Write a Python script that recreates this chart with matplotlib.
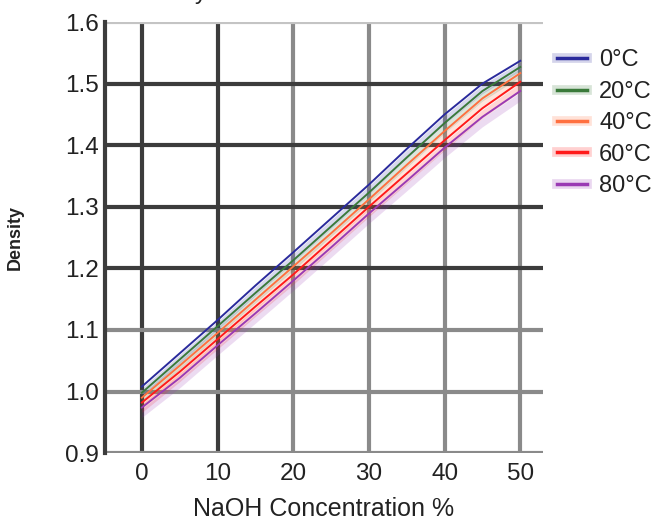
import numpy as np
import matplotlib.pyplot as plt
from matplotlib.lines import Line2D

conc = [0, 5, 10, 15, 20, 25, 30, 35, 40, 45, 50]
labels = ['0°C', '20°C', '40°C', '60°C', '80°C']
d0 = [1.008, 1.062, 1.116, 1.172, 1.226, 1.281, 1.336, 1.394, 1.450, 1.500, 1.537]
d20 = [0.998, 1.052, 1.106, 1.160, 1.213, 1.268, 1.323, 1.380, 1.436, 1.488, 1.527]
d40 = [0.990, 1.042, 1.095, 1.149, 1.203, 1.257, 1.312, 1.368, 1.423, 1.476, 1.517]
d60 = [0.982, 1.032, 1.085, 1.138, 1.190, 1.245, 1.300, 1.354, 1.408, 1.460, 1.503]
d80 = [0.974, 1.022, 1.075, 1.127, 1.180, 1.234, 1.289, 1.342, 1.396, 1.446, 1.488]
colors = ['#2a2a9c', '#3a7a3a', '#ff7040', '#ff1a1a', '#9a3ab4']

xticks = [0, 10, 20, 30, 40, 50]
yticks = [0.9, 1.0, 1.1, 1.2, 1.3, 1.4, 1.5, 1.6]

plt.rcParams['font.family'] = ['Liberation Sans', 'DejaVu Sans']
txt = '#222222'

fig = plt.figure(figsize=(6.55, 5.25), dpi=100)
ax = fig.add_axes([0.160, 0.137, 0.669, 0.821])

# grid: dark and grey lines as in the original picture
dark = '#3c3c3c'
grey = '#8a8a8a'
for x in xticks:
    ax.axvline(x, color=dark if x < 20 else grey, lw=3, zorder=1)
for y in yticks:
    if y >= 1.6:
        c = '#c4c4c4'
    elif y >= 1.2:
        c = dark
    else:
        c = grey
    ax.axhline(y, color=c, lw=3, zorder=1)

series = [d0, d20, d40, d60, d80]
handles = []
for d, c, lab in zip(series, colors, labels):
    d = np.array(d)
    ax.fill_between(conc, d - 0.016, d - 0.002, color=c, alpha=0.18, lw=0, zorder=2)
    ax.plot(conc, d, color=c, lw=1.4, zorder=3)
    handles.append((Line2D([], [], color=c, lw=7, alpha=0.2),
                    Line2D([], [], color=c, lw=2.5)))

ax.set_xlim(-4.9, 53)
ax.set_ylim(0.9, 1.6)
ax.set_xticks(xticks)
ax.set_yticks(yticks)
ax.set_yticklabels(['%.1f' % v for v in yticks])
ax.tick_params(length=0, labelsize=17.5, colors=txt)
ax.tick_params(axis='y', pad=4)
ax.tick_params(axis='x', pad=7)
for s in ['top', 'right', 'bottom']:
    ax.spines[s].set_visible(False)
ax.spines['left'].set_color(dark)
ax.spines['left'].set_linewidth(3)

ax.set_xlabel('NaOH Concentration %', fontsize=18, color=txt, labelpad=9)
ax.set_ylabel('Density', fontsize=13, fontweight='bold', color=txt, labelpad=30)

fig.legend(handles, labels, loc='upper left', bbox_to_anchor=(0.850, 0.906),
           frameon=False, fontsize=17, handlelength=1.3, handletextpad=0.5,
           labelspacing=0.4, borderpad=0, borderaxespad=0,
           labelcolor=txt)

fig.text(0.298, 1.002, 'y', fontsize=17, va='baseline', color=txt)

plt.savefig('out.png')
